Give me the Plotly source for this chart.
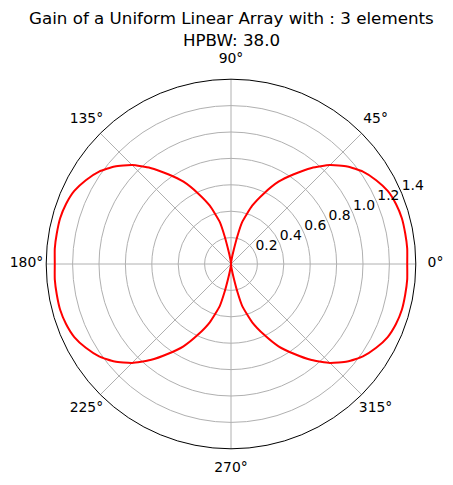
import plotly.graph_objects as go

theta_deg = [0, 5, 10, 15, 20, 25, 30, 35, 40, 45, 50, 55, 60, 65, 70, 75, 77, 79, 82, 86,
             90, 94, 98, 101, 103, 105, 110, 115, 120, 125, 130, 135, 140, 145, 150, 155, 160, 165, 170, 175,
             180, 185, 190, 195, 200, 205, 210, 215, 220, 225, 230, 235, 240, 245, 250, 255, 257, 259, 262, 266,
             270, 274, 278, 281, 283, 285, 290, 295, 300, 305, 310, 315, 320, 325, 330, 335, 340, 345, 350, 355, 360]
gain = [1.335, 1.34, 1.34, 1.34, 1.33, 1.31, 1.27, 1.22, 1.15, 1.06, 0.95, 0.83, 0.72, 0.59, 0.47, 0.33, 0.22, 0.11, 0.04, 0.01,
        0.0, 0.01, 0.04, 0.11, 0.22, 0.33, 0.47, 0.59, 0.72, 0.83, 0.95, 1.06, 1.15, 1.22, 1.27, 1.31, 1.33, 1.34, 1.34, 1.34,
        1.335, 1.34, 1.34, 1.34, 1.33, 1.31, 1.27, 1.22, 1.15, 1.06, 0.95, 0.83, 0.72, 0.59, 0.47, 0.33, 0.22, 0.11, 0.04, 0.01,
        0.0, 0.01, 0.04, 0.11, 0.22, 0.33, 0.47, 0.59, 0.72, 0.83, 0.95, 1.06, 1.15, 1.22, 1.27, 1.31, 1.33, 1.34, 1.34, 1.34, 1.335]

angle_ticks = [0, 45, 90, 135, 180, 225, 270, 315]
angle_labels = ["0°", "45°", "90°", "135°", "180°", "225°", "270°", "315°"]
radial_ticks = [0.2, 0.4, 0.6, 0.8, 1.0, 1.2, 1.4]
radial_labels = ["0.2", "0.4", "0.6", "0.8", "1.0", "1.2", "1.4"]

title_lines = ["Gain of a Uniform Linear Array with : 3 elements", "HPBW: 38.0"]

font = "DejaVu Sans"
W, H = 453, 485
cx, cy = 231, 264          # centre of the polar plot in pixels
R1 = 184.8                 # pixel radius of the main polar plot
r_max = 1.4
R2 = 212.0                 # pixel radius of the (invisible) label subplot
r_max2 = r_max * R2 / R1   # same scale as the main subplot
label_r = r_max * 204.5 / R1
radial_label_angle = 22.5


def dom(R):
    return dict(x=[(cx - R) / W, (cx + R) / W], y=[1 - (cy + R) / H, 1 - (cy - R) / H])


fig = go.Figure()
fig.add_trace(go.Scatterpolar(
    r=gain, theta=theta_deg, mode="lines",
    line=dict(color="red", width=2, shape="spline", smoothing=0.5), showlegend=False,
))
# radial tick labels, left/bottom anchored at the 22.5 deg ray
fig.add_trace(go.Scatterpolar(
    r=radial_ticks, theta=[radial_label_angle] * len(radial_ticks), mode="text",
    text=radial_labels, textposition="top right", cliponaxis=False,
    textfont=dict(family=font, size=13.9, color="black"),
    showlegend=False, hoverinfo="skip",
))
# angular tick labels, centred at a fixed radius (matplotlib style), on an invisible larger subplot
fig.add_trace(go.Scatterpolar(
    r=[label_r] * len(angle_ticks), theta=angle_ticks, mode="text",
    text=angle_labels, textposition="middle center", cliponaxis=False,
    textfont=dict(family=font, size=13.9, color="black"),
    showlegend=False, hoverinfo="skip", subplot="polar2",
))

for i, txt in enumerate(title_lines):
    fig.add_annotation(
        text=txt, x=cx / W, xref="paper", xanchor="center",
        y=1 - (18.5 + 21.5 * i) / H, yref="paper", yanchor="middle",
        showarrow=False, font=dict(family=font, size=16.7, color="black"),
    )

fig.update_layout(
    width=W, height=H,
    margin=dict(l=0, r=0, t=0, b=0),
    paper_bgcolor="white",
    font=dict(family=font, size=13.9, color="black"),
    polar=dict(
        domain=dom(R1),
        bgcolor="white",
        angularaxis=dict(
            direction="counterclockwise", rotation=0,
            tickmode="array", tickvals=angle_ticks, ticktext=angle_labels,
            showticklabels=False, ticks="",
            showline=True, linecolor="black", linewidth=1,
            showgrid=True, gridcolor="#b0b0b0", gridwidth=1,
        ),
        radialaxis=dict(
            range=[0, r_max], angle=radial_label_angle,
            tickmode="array", tickvals=radial_ticks, ticktext=radial_labels,
            showticklabels=False, showline=False, ticks="",
            showgrid=True, gridcolor="#b0b0b0", gridwidth=1,
        ),
    ),
    polar2=dict(
        domain=dom(R2),
        bgcolor="rgba(0,0,0,0)",
        angularaxis=dict(direction="counterclockwise", rotation=0, showticklabels=False,
                         ticks="", showline=False, showgrid=False),
        radialaxis=dict(range=[0, r_max2], showticklabels=False, ticks="",
                        showline=False, showgrid=False),
    ),
)

fig.write_html("out.html")
